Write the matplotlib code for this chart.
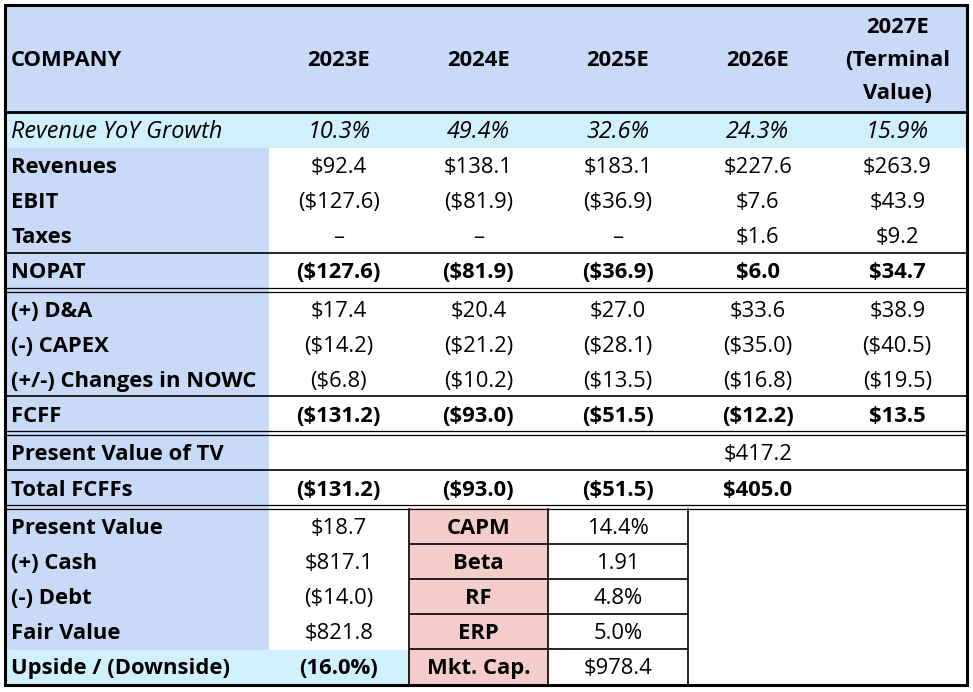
import matplotlib
matplotlib.use("Agg")
import matplotlib.pyplot as plt
from matplotlib.patches import Rectangle

plt.rcParams['font.family'] = ['Open Sans', 'DejaVu Sans']

# --- data ---
years = ["2023E", "2024E", "2025E", "2026E", "2027E\n(Terminal\nValue)"]
growth = [10.3, 49.4, 32.6, 24.3, 15.9]
revenues = [92.4, 138.1, 183.1, 227.6, 263.9]
ebit = [-127.6, -81.9, -36.9, 7.6, 43.9]
taxes = [None, None, None, 1.6, 9.2]
nopat = [-127.6, -81.9, -36.9, 6.0, 34.7]
da = [17.4, 20.4, 27.0, 33.6, 38.9]
capex = [-14.2, -21.2, -28.1, -35.0, -40.5]
nowc = [-6.8, -10.2, -13.5, -16.8, -19.5]
fcff = [-131.2, -93.0, -51.5, -12.2, 13.5]
pv_tv = [None, None, None, 417.2, None]
total_fcff = [-131.2, -93.0, -51.5, 405.0, None]

val_labels = ["Present Value", "(+) Cash", "(-) Debt", "Fair Value"]
val_values = [18.7, 817.1, -14.0, 821.8]
upside = -16.0
capm_labels = ["CAPM", "Beta", "RF", "ERP", "Mkt. Cap."]
capm_values = ["14.4%", "1.91", "4.8%", "5.0%", "$978.4"]

BLUE = "#c9daf8"
CYAN = "#d0f0fd"
PINK = "#f4cccc"
FS = 15.8


def money(v, dash=""):
    if v is None:
        return dash
    if v < 0:
        return f"(${-v:.1f})"
    return f"${v:.1f}"


W, H = 973, 692
fig = plt.figure(figsize=(W / 100, H / 100), dpi=100)
ax = fig.add_axes([0, 0, 1, 1])
ax.set_xlim(0, W)
ax.set_ylim(H, 0)
ax.axis("off")

L, R = 5, 967
col_x = [269 + 139.6 * i for i in range(6)]
centers = [(col_x[i] + col_x[i + 1]) / 2 for i in range(5)]


def box(x0, y0, x1, y1, color):
    ax.add_patch(Rectangle((x0, y0), x1 - x0, y1 - y0, facecolor=color, edgecolor="none", zorder=0))


def hline(y, x0=L, x1=R, lw=1.2):
    ax.plot([x0, x1], [y, y], color="black", lw=lw, solid_capstyle="butt", zorder=3)


def dline(y, x0=L, x1=R):
    hline(y - 1.6, x0, x1, lw=0.9)
    hline(y + 1.6, x0, x1, lw=0.9)


def put(x, y, s, ha="center", size=FS, **kw):
    ax.text(x, y + 1.5, s, fontsize=size, va="center", ha=ha, **kw)


# backgrounds
box(L, 5, R, 112, BLUE)
box(L, 112, R, 148, CYAN)
box(L, 148, col_x[0], 650, BLUE)
box(L, 650, col_x[1], 685, CYAN)
box(col_x[1], 508, col_x[2], 685, PINK)

# header
put(11, 59, "COMPANY", ha="left", fontweight="bold")
for c, y in zip(centers, years):
    put(c, 59, y, fontweight="bold", linespacing=1.75)

# growth row
put(11, 130, "Revenue YoY Growth", ha="left", size=16.8, style="italic")
for c, g in zip(centers, growth):
    put(c, 130, f"{g:.1f}%", size=16.8, style="italic")

rows = [
    ("Revenues", revenues, 166, "normal", ""),
    ("EBIT", ebit, 201, "normal", ""),
    ("Taxes", taxes, 236, "normal", "\u2013"),
    ("NOPAT", nopat, 271, "bold", ""),
    ("(+) D&A", da, 310, "normal", ""),
    ("(-) CAPEX", capex, 345, "normal", ""),
    ("(+/-) Changes in NOWC", nowc, 380, "normal", ""),
    ("FCFF", fcff, 415, "bold", ""),
    ("Present Value of TV", pv_tv, 453, "normal", ""),
    ("Total FCFFs", total_fcff, 489, "bold", ""),
]
for label, vals, y, wt, dash in rows:
    put(11, y, label, ha="left", fontweight="bold")
    for c, v in zip(centers, vals):
        put(c, y, money(v, dash), fontweight=wt)

# valuation block
for i, (lab, v) in enumerate(zip(val_labels, val_values)):
    y = 527 + 35 * i
    put(11, y, lab, ha="left", fontweight="bold")
    put(centers[0], y, money(v))
put(11, 667, "Upside / (Downside)", ha="left", fontweight="bold")
put(centers[0], 667, f"({-upside:.1f}%)" if upside < 0 else f"{upside:.1f}%", fontweight="bold")
for i, (lab, v) in enumerate(zip(capm_labels, capm_values)):
    y = 527 + 35 * i
    put(centers[1], y, lab, fontweight="bold")
    put(centers[2], y, v)

# lines
hline(112, lw=2.0)
hline(253)
dline(290)
hline(396)
dline(433)
hline(470)
dline(507)
for y in [544, 579, 614, 649]:
    hline(y, col_x[1], col_x[3])
for x in [col_x[1], col_x[2], col_x[3]]:
    ax.plot([x, x], [508.6, 685], color="black", lw=1.2, zorder=3)
ax.add_patch(Rectangle((L, 5), R - L, 680, facecolor="none", edgecolor="black", lw=2.2, zorder=4))

fig.savefig("out.png", dpi=100)
